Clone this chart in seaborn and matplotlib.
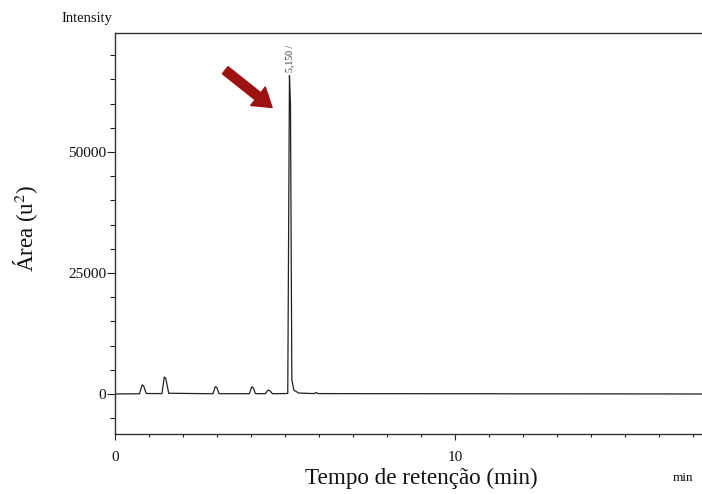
import matplotlib
matplotlib.use("Agg")
import matplotlib.pyplot as plt
import seaborn as sns
import pandas as pd

# chromatogram trace (time in min, intensity)
tempo = [0.0, 0.72, 0.80, 0.84, 0.92, 1.38, 1.45, 1.49, 1.58, 2.88, 2.95, 2.99, 3.06,
         3.95, 4.02, 4.06, 4.13, 4.42, 4.50, 4.55, 4.63, 5.08, 5.13, 5.16, 5.20, 5.26,
         5.40, 5.85, 5.92, 5.98, 17.3]
intensidade = [0, 50, 1900, 1700, 100, 80, 3500, 3300, 150, 50, 1500, 1400, 60,
               60, 1450, 1350, 80, 60, 800, 700, 50, 100, 65800, 60000, 3000, 800,
               200, 80, 300, 80, 0]

pico_tempo = 5.13
pico_label = "5,150 /"

df = pd.DataFrame({"tempo": tempo, "intensidade": intensidade})

sns.set_style("white")
plt.rcParams["font.family"] = ["Liberation Serif", "DejaVu Serif"]
plt.rcParams["mathtext.fontset"] = "stix"
plt.rcParams["text.color"] = "#111111"

fig = plt.figure(figsize=(7.02, 4.94), dpi=100)
ax = fig.add_axes([0.1638, 0.1215, 0.8362, 0.8117])

sns.lineplot(data=df, x="tempo", y="intensidade", estimator=None, sort=False,
             color="#222222", linewidth=0.9, ax=ax)

ax.set_xlim(0, 17.26)
ax.set_ylim(-8264, 74590)

ax.set_xticks([0, 10])
ax.set_xticks(range(0, 18), minor=True)
ax.set_yticks([0, 25000, 50000])
ax.set_yticks(range(-5000, 74000, 5000), minor=True)
ax.tick_params(axis="both", which="both", bottom=True, left=True, top=False, right=False,
               direction="out", width=0.8, colors="#222222")
ax.tick_params(axis="both", which="major", labelsize=11, labelcolor="#111111")
ax.tick_params(axis="x", which="major", length=4, pad=8)
ax.tick_params(axis="x", which="minor", length=2.5)
ax.tick_params(axis="y", which="major", length=5.8, pad=0.5)
ax.tick_params(axis="y", which="minor", length=3.6)

for side in ["left", "bottom", "top"]:
    ax.spines[side].set_color("#333333")
    ax.spines[side].set_linewidth(1.0)
ax.spines["right"].set_visible(False)

ax.set_xlabel("Tempo de retenção (min)", fontsize=16.7, color="#111111")
ax.xaxis.set_label_coords(0.5225, -0.085)
ax.set_ylabel(r"Área (u$^{2}$)", fontsize=16.5, color="#111111")
ax.yaxis.set_label_coords(-0.128, 0.5125)

fig.text(0.088, 0.962, "Intensity", fontsize=10.5, ha="left", va="center")
fig.text(0.958, 0.032, "min", fontsize=9.5, ha="left", va="center")

ax.text(pico_tempo, 66600, pico_label, rotation=90, fontsize=7,
        ha="center", va="bottom", color="#333333")

ax.annotate("", xy=(4.62, 59200), xytext=(3.24, 66900),
            arrowprops=dict(arrowstyle="simple,head_width=1.3,head_length=1.0,tail_width=0.5",
                            color="#9e1111", mutation_scale=13, shrinkA=0, shrinkB=0))

fig.savefig("out.png", dpi=100)
